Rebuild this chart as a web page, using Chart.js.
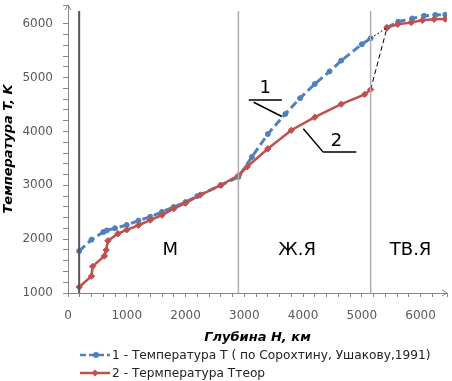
<!DOCTYPE html>
<html>
<head>
<meta charset="utf-8">
<script src="https://cdn.jsdelivr.net/npm/chart.js@4.4.0/dist/chart.umd.min.js"></script>
<style>
  html, body { margin: 0; padding: 0; background: #fff; }
  #wrap { width: 452px; height: 381px; }
</style>
</head>
<body>
<div id="wrap"><canvas id="temp-depth"></canvas></div>
<script>
// Depth, km
const depthSor = [190, 400, 600, 660, 800, 1000, 1200, 1400, 1600, 1800, 2000, 2200, 2600, 2900,
  3130, 3400, 3700, 3950, 4200, 4450, 4650, 5000, 5150, 5300, 5430, 5620, 5860, 6060, 6250, 6420]
// Temperature T (Sorokhtin, Ushakov 1991), K; null = gap between outer and inner core
const tempSor = [1779, 1991, 2132, 2163, 2203, 2264, 2345, 2416, 2507, 2598, 2689, 2800, 3002, 3154,
  3528, 3952, 4327, 4620, 4883, 5115, 5317, 5621, 5732, null, 5930, 6040, 6100, 6150, 6165, 6170]

const depthTheor = [190, 400, 420, 620, 650, 680, 850, 1000, 1200, 1400, 1600, 1800, 2000, 2250, 2600,
  2900, 3050, 3400, 3800, 4200, 4650, 5050, 5150, 5300, 5430, 5610, 5840, 6030, 6230, 6420]
const tempTheor = [1111, 1313, 1495, 1688, 1799, 1971, 2102, 2173, 2259, 2355, 2446, 2567, 2668, 2820, 3002,
  3184, 3346, 3679, 4023, 4266, 4508, 4690, 4780, null, 5930, 5990, 6025, 6065, 6085, 6088]

// dashed links across the core boundary
const linkDepth = [5150, 5430]
const linkTempSor = [5732, 5930]
const linkTempTheor = [4780, 5930]

// zone boundaries, km
const boundaries = [190, 2900, 5150]
const boundaryTop = 6240

const zoneLabels = ['М', 'Ж.Я', 'ТВ.Я']
const zoneDepth = [1740, 3900, 5830]
const zoneTemp = 1796

const xTicks = [0, 1000, 2000, 3000, 4000, 5000, 6000]
const yTicks = [1000, 2000, 3000, 4000, 5000, 6000]

const labelSor = '1 - Температура T ( по Сорохтину, Ушакову,1991)'
const labelTheor = '2 - Термпература Tтеор'

const BLUE = '#4f81bd'
const RED = '#c0504d'
const AXIS = '#868686'
const TXT = '#595959'

const pts = (xs, ys) => xs.map((v, i) => ({ x: v, y: ys[i] }))

const boundarySets = boundaries.map((b, i) => ({
  data: [{ x: b, y: 1000 }, { x: b, y: boundaryTop }],
  borderColor: i === 0 ? '#555555' : '#b0b0b0',
  borderWidth: i === 0 ? 2 : 1.5,
  pointRadius: 0,
}))

// callouts "1" and "2" (data units)
const callouts = [
  { text: '1', at: [3358, 4800], shelf: [[3076, 4587], [3639, 4587]], leg: [[3160, 4543], [3639, 4278]] },
  { text: '2', at: [4568, 3810], shelf: [[4343, 3617], [4906, 3617]], leg: [[4005, 4050], [4343, 3617]] },
]

const decor = {
  id: 'decor',
  afterDraw(chart) {
    const { ctx, chartArea: a } = chart
    const x = chart.scales.x
    const y = chart.scales.y
    ctx.save()
    // axis arrows
    ctx.strokeStyle = AXIS
    ctx.lineWidth = 1
    ctx.beginPath()
    ctx.moveTo(a.left - 3, a.top + 5); ctx.lineTo(a.left, a.top); ctx.lineTo(a.left + 3, a.top + 5)
    ctx.moveTo(a.right - 5, a.bottom - 3); ctx.lineTo(a.right, a.bottom); ctx.lineTo(a.right - 5, a.bottom + 3)
    ctx.stroke()

    // zone labels
    ctx.fillStyle = '#000'
    ctx.font = '18px "DejaVu Sans"'
    ctx.textAlign = 'center'
    ctx.textBaseline = 'middle'
    zoneLabels.forEach((t, i) => {
      ctx.fillText(t, x.getPixelForValue(zoneDepth[i]), y.getPixelForValue(zoneTemp))
    })

    // callouts
    ctx.strokeStyle = '#000'
    ctx.lineWidth = 1.5
    ctx.font = '18px "DejaVu Sans"'
    callouts.forEach(c => {
      ctx.beginPath()
      ;[c.shelf, c.leg].forEach(seg => {
        ctx.moveTo(x.getPixelForValue(seg[0][0]), y.getPixelForValue(seg[0][1]))
        ctx.lineTo(x.getPixelForValue(seg[1][0]), y.getPixelForValue(seg[1][1]))
      })
      ctx.stroke()
      ctx.fillText(c.text, x.getPixelForValue(c.at[0]), y.getPixelForValue(c.at[1]))
    })

    // legend
    const rows = [
      { label: labelSor, color: BLUE, dash: [6, 3], style: 'circle', yy: 355 },
      { label: labelTheor, color: RED, dash: [], style: 'diamond', yy: 373 },
    ]
    ctx.font = '12.2px "DejaVu Sans"'
    ctx.textAlign = 'left'
    rows.forEach(r => {
      const x0 = a.left + 12
      ctx.strokeStyle = r.color
      ctx.fillStyle = r.color
      ctx.lineWidth = 2.5
      ctx.setLineDash(r.dash)
      ctx.beginPath()
      ctx.moveTo(x0, r.yy); ctx.lineTo(x0 + 30, r.yy)
      ctx.stroke()
      ctx.setLineDash([])
      ctx.beginPath()
      if (r.style === 'circle') {
        ctx.arc(x0 + 16, r.yy, 3, 0, Math.PI * 2)
      } else {
        ctx.moveTo(x0 + 15, r.yy - 3.5); ctx.lineTo(x0 + 18.5, r.yy)
        ctx.lineTo(x0 + 15, r.yy + 3.5); ctx.lineTo(x0 + 11.5, r.yy)
        ctx.closePath()
      }
      ctx.fill()
      ctx.fillStyle = '#222'
      ctx.fillText(r.label, x0 + 32, r.yy + 1)
    })
    ctx.restore()
  },
}

const configTemp = {
  type: 'line',
  data: {
    datasets: [
      ...boundarySets,
      {
        data: pts(linkDepth, linkTempSor),
        borderColor: '#000',
        borderWidth: 1,
        borderDash: [2, 2],
        pointRadius: 0,
      },
      {
        data: pts(linkDepth, linkTempTheor),
        borderColor: '#000',
        borderWidth: 1,
        borderDash: [5, 3],
        pointRadius: 0,
      },
      {
        label: labelTheor,
        data: pts(depthTheor, tempTheor),
        borderColor: RED,
        backgroundColor: RED,
        borderWidth: 2.5,
        pointStyle: 'rectRot',
        pointRadius: 3.2,
        pointBorderWidth: 1,
      },
      {
        label: labelSor,
        data: pts(depthSor, tempSor),
        borderColor: BLUE,
        backgroundColor: BLUE,
        borderWidth: 3,
        segment: { borderDash: () => [8, 4] },
        pointStyle: 'circle',
        pointRadius: 2.5,
        pointBorderWidth: 1,
      },
    ],
  },
  options: {
    responsive: true,
    maintainAspectRatio: false,
    animation: false,
    layout: { padding: { top: 4, right: 2, bottom: 36, left: 0 } },
    plugins: {
      legend: { display: false },
      tooltip: { enabled: false },
    },
    scales: {
      x: {
        type: 'linear',
        min: 0,
        max: 6450,
        grid: { drawOnChartArea: false, color: AXIS, tickLength: 4 },
        border: { color: AXIS },
        ticks: {
          stepSize: 200,
          autoSkip: false,
          maxRotation: 0,
          padding: 12,
          color: TXT,
          font: { family: 'DejaVu Sans', size: 12 },
          callback: v => (xTicks.includes(v) ? v : ''),
        },
        title: {
          display: true,
          text: 'Глубина H, км',
          color: '#000',
          padding: { top: 0, bottom: 0 },
          font: { family: 'DejaVu Sans', size: 13, weight: 'bold', style: 'italic' },
        },
        afterFit: s => { s.height = 52; s.paddingRight = 0 },
      },
      y: {
        min: 1000,
        max: 6350,
        grid: { drawOnChartArea: false, color: AXIS, tickLength: 5 },
        border: { color: AXIS },
        ticks: {
          stepSize: 200,
          autoSkip: false,
          padding: 10,
          color: TXT,
          font: { family: 'DejaVu Sans', size: 12 },
          callback: v => (yTicks.includes(v) ? v : ''),
        },
        title: {
          display: true,
          text: 'Температура T, K',
          color: '#000',
          padding: { top: 1, bottom: 0 },
          font: { family: 'DejaVu Sans', size: 13, weight: 'bold', style: 'italic' },
        },
        afterFit: s => { s.width = 68; s.paddingTop = 0; s.paddingBottom = 0 },
      },
    },
  },
  plugins: [decor],
}

const tempChart = new Chart(document.getElementById('temp-depth').getContext('2d'), configTemp)
</script>
</body>
</html>
